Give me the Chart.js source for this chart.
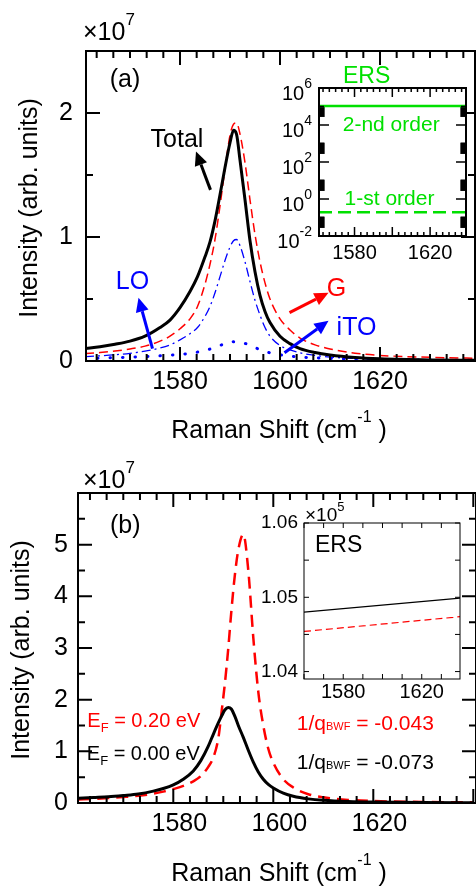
<!DOCTYPE html>
<html>
<head>
<meta charset="utf-8">
<title>G band and ERS</title>
<script src="https://cdn.jsdelivr.net/npm/chart.js@4.4.1/dist/chart.umd.min.js"></script>
<style>
  body { margin: 0; background: #fff; }
  #page { position: relative; width: 476px; height: 886px; overflow: hidden; background: #fff; }
  canvas { position: absolute; }
</style>
</head>
<body>
<div id="page">
  <canvas id="mainA" width="476" height="443" style="left:0;top:0"></canvas>
  <canvas id="mainB" width="476" height="443" style="left:0;top:443px"></canvas>
  <canvas id="insetA" width="226" height="215" style="left:250px;top:55px"></canvas>
  <canvas id="insetB" width="236" height="215" style="left:240px;top:495px"></canvas>
</div>
<script>
const FONT = "'Liberation Sans', Arial, Helvetica, sans-serif";
Chart.defaults.font.family = FONT;
Chart.defaults.color = '#000';

const BLACK = '#000000', RED = '#ff0000', BLUE = '#0000ff', GREEN = '#00e000';

// Raman shift in cm^-1, intensity in units of 1e7

// (a) total G band and its parts
const shiftA = [1561, 1564, 1567, 1570, 1573, 1576, 1578, 1580, 1582, 1583.5, 1585, 1586, 1587, 1588, 1589, 1590, 1590.7, 1591.3, 1592, 1593, 1594, 1595, 1596, 1597, 1598, 1600, 1602, 1604, 1607, 1610, 1615, 1620, 1630, 1639];
const totalA = [0.10, 0.115, 0.135, 0.16, 0.2, 0.27, 0.33, 0.43, 0.56, 0.68, 0.84, 0.96, 1.13, 1.34, 1.56, 1.76, 1.86, 1.83, 1.62, 1.3, 0.97, 0.72, 0.53, 0.4, 0.31, 0.2, 0.14, 0.1, 0.068, 0.048, 0.028, 0.018, 0.009, 0.006];
const gBandA = [0.06, 0.068, 0.08, 0.097, 0.12, 0.16, 0.2, 0.26, 0.34, 0.44, 0.62, 0.78, 0.98, 1.25, 1.55, 1.82, 1.91, 1.92, 1.83, 1.6, 1.3, 1.02, 0.8, 0.63, 0.5, 0.34, 0.25, 0.185, 0.13, 0.097, 0.063, 0.045, 0.03, 0.022];
const loA = [0.035, 0.042, 0.05, 0.062, 0.08, 0.105, 0.13, 0.17, 0.22, 0.27, 0.36, 0.44, 0.55, 0.68, 0.81, 0.92, 0.97, 0.98, 0.93, 0.8, 0.64, 0.49, 0.37, 0.27, 0.2, 0.125, 0.09, 0.066, 0.045, 0.032, 0.02, 0.014, 0.008, 0.006];
const itoA = [0.02, 0.023, 0.027, 0.031, 0.036, 0.042, 0.047, 0.053, 0.062, 0.072, 0.085, 0.096, 0.11, 0.125, 0.14, 0.152, 0.156, 0.156, 0.152, 0.142, 0.125, 0.108, 0.092, 0.078, 0.066, 0.05, 0.04, 0.032, 0.025, 0.02, 0.015, 0.011, 0.007, 0.005];

// (a) inset: ERS, log scale
const ersShiftA = [1561.2, 1639];
const ersSecond = [1.05e5, 1.05e5];
const ersFirst = [0.19, 0.19];
const ersMarkY = [5.5e4, 550, 5.5, 0.055];

// (b) two Fermi levels
const shiftB = [1561, 1564, 1567, 1570, 1573, 1576, 1578, 1580, 1582, 1584, 1585.5, 1587, 1588, 1589, 1589.7, 1590.3, 1591, 1591.6, 1592.3, 1593, 1594, 1595, 1596, 1597, 1598, 1599, 1600, 1602, 1604, 1607, 1610, 1615, 1620, 1630, 1640];
const ef000B = [0.09, 0.105, 0.12, 0.145, 0.175, 0.23, 0.28, 0.35, 0.46, 0.62, 0.82, 1.1, 1.33, 1.55, 1.69, 1.8, 1.85, 1.82, 1.68, 1.5, 1.27, 1.02, 0.79, 0.6, 0.46, 0.36, 0.29, 0.19, 0.13, 0.08, 0.052, 0.028, 0.017, 0.008, 0.005];
const ef020B = [0.07, 0.08, 0.095, 0.115, 0.14, 0.18, 0.22, 0.27, 0.33, 0.42, 0.52, 0.7, 0.88, 1.25, 1.8, 2.3, 3.0, 3.7, 4.4, 4.9, 5.2, 4.5, 3.2, 2.15, 1.5, 1.05, 0.78, 0.46, 0.3, 0.17, 0.11, 0.06, 0.038, 0.02, 0.012];

// (b) inset: ERS in units of 1e5
const ersShiftB = [1560, 1640];
const ersEf000 = [1.048, 1.0499];
const ersEf020 = [1.0454, 1.0474];

// tick labels
const mainXTicks = [1580, 1600, 1620];
const insetXTicks = [1580, 1620];
const ticksYA = [0, 1, 2];
const ticksYB = [0, 1, 2, 3, 4, 5];
const ticksYInsetB = [1.04, 1.05, 1.06];
const logDecades = [-2, 0, 2, 4, 6];

const pts = (xs, ys) => xs.map((x, i) => ({ x, y: ys[i] }));
function curve(xs, ys, color, width, dash, extra) {
  return Object.assign({
    data: pts(xs, ys), borderColor: color, borderWidth: width, borderDash: dash || [],
    pointRadius: 0, fill: false, clip: 0, cubicInterpolationMode: 'monotone'
  }, extra || {});
}

function xAxis(min, max, labels, size, pad, height, extra) {
  return {
    type: 'linear', min, max,
    grid: { display: false, drawTicks: false }, border: { display: false },
    afterBuildTicks: s => { s.ticks = labels.map(v => ({ value: v })); },
    afterFit: s => { s.height = height; },
    ticks: Object.assign({ font: { size }, padding: pad, maxRotation: 0, autoSkip: false, color: '#000', callback: v => String(v) }, extra || {})
  };
}
function yAxis(min, max, labels, size, pad, width, fmt) {
  return {
    type: 'linear', min, max,
    grid: { display: false, drawTicks: false }, border: { display: false },
    afterBuildTicks: s => { s.ticks = labels.map(v => ({ value: v })); },
    afterFit: s => { s.width = width; },
    ticks: { font: { size }, padding: pad, color: '#000', callback: fmt || (v => String(v)) }
  };
}

function markValues(min, max, specs) {
  const out = [];
  specs.forEach(sp => {
    const k0 = Math.ceil((min - sp.origin) / sp.step - 1e-6);
    const k1 = Math.floor((max - sp.origin) / sp.step + 1e-6);
    for (let k = k0; k <= k1; k++) {
      const v = sp.origin + k * sp.step;
      if (!out.some(m => Math.abs(m.v - v) < Math.abs(sp.step) * 1e-3)) out.push({ v, len: sp.len });
    }
  });
  return out;
}

// box, inward ticks on all four sides
function frame(o) {
  return {
    id: 'frame',
    beforeDraw(chart) {
      if (!o.fill) return;
      const a = chart.chartArea, c = chart.ctx;
      c.save(); c.fillStyle = '#fff'; c.fillRect(a.left, a.top, a.right - a.left, a.bottom - a.top); c.restore();
    },
    afterDatasetsDraw(chart) {
      const c = chart.ctx, a = chart.chartArea, xs = chart.scales.x, ys = chart.scales.y;
      c.save();
      c.strokeStyle = '#000'; c.lineWidth = o.tw;
      c.beginPath();
      markValues(xs.min, xs.max, o.x).forEach(m => {
        const p = xs.getPixelForValue(m.v);
        c.moveTo(p, a.bottom); c.lineTo(p, a.bottom - m.len);
        c.moveTo(p, a.top); c.lineTo(p, a.top + m.len);
      });
      (o.yList || markValues(ys.min, ys.max, o.y)).forEach(m => {
        const p = ys.getPixelForValue(m.v);
        c.moveTo(a.left, p); c.lineTo(a.left + m.len, p);
        c.moveTo(a.right, p); c.lineTo(a.right - m.len, p);
      });
      c.stroke();
      c.lineWidth = o.lw;
      c.strokeRect(a.left, a.top, a.right - a.left, a.bottom - a.top);
      c.restore();
    }
  };
}

function drawRich(c, x, base, parts, align, color) {
  const ws = parts.map(p => { c.font = p[1] + 'px ' + FONT; return c.measureText(p[0]).width; });
  const w = ws.reduce((s, v) => s + v, 0);
  let cx = align === 'center' ? x - w / 2 : align === 'right' ? x - w : x;
  c.fillStyle = color; c.textAlign = 'left'; c.textBaseline = 'alphabetic';
  parts.forEach((p, i) => { c.font = p[1] + 'px ' + FONT; c.fillText(p[0], cx, base + (p[2] || 0)); cx += ws[i]; });
}

function drawArrow(c, x1, y1, x2, y2, color) {
  const head = 14, hw = 6.5, ang = Math.atan2(y2 - y1, x2 - x1);
  const bx = x2 - head * Math.cos(ang), by = y2 - head * Math.sin(ang);
  c.strokeStyle = color; c.fillStyle = color; c.lineWidth = 3;
  c.beginPath(); c.moveTo(x1, y1); c.lineTo(bx, by); c.stroke();
  c.beginPath(); c.moveTo(x2, y2);
  c.lineTo(bx + hw * Math.sin(ang), by - hw * Math.cos(ang));
  c.lineTo(bx - hw * Math.sin(ang), by + hw * Math.cos(ang));
  c.closePath(); c.fill();
}

// texts and arrows placed in data units, plus axis titles
function notes(o) {
  return {
    id: 'notes',
    afterDraw(chart) {
      const c = chart.ctx, a = chart.chartArea, xs = chart.scales.x, ys = chart.scales.y;
      c.save();
      (o.arrows || []).forEach(r => drawArrow(c, xs.getPixelForValue(r[0]), ys.getPixelForValue(r[1]),
        xs.getPixelForValue(r[2]), ys.getPixelForValue(r[3]), r[4]));
      (o.texts || []).forEach(t => drawRich(c, xs.getPixelForValue(t.x),
        ys.getPixelForValue(t.y) + t.parts[0][1] * 0.36, t.parts, t.align || 'center', t.color));
      if (o.mult) drawRich(c, a.left + o.mult.dx, a.top + o.mult.dy, o.mult.parts, 'left', '#000');
      if (o.logLabels) o.logLabels.forEach(k => drawRich(c, a.left - 7, ys.getPixelForValue(Math.pow(10, k)) + 12,
        [['10', 20, 0], [String(k), 14, -12.5]], 'right', '#000'));
      if (o.xTitle) drawRich(c, o.xTitle.x, o.xTitle.y, [['Raman Shift (cm', 25, 0], ['-1', 16, -16.5], [' )', 25, 0]], 'center', '#000');
      if (o.yTitle) {
        c.translate(o.yTitle.x, (a.top + a.bottom) / 2 + 2);
        c.rotate(-Math.PI / 2);
        c.font = '25px ' + FONT; c.fillStyle = '#000'; c.textAlign = 'center'; c.textBaseline = 'middle';
        c.fillText('Intensity (arb. units)', 0, 0);
      }
      c.restore();
    }
  };
}

const base = { responsive: false, animation: false, events: [], plugins: { legend: { display: false }, tooltip: { enabled: false } } };
const mainFrame = { lw: 2, tw: 2,
  x: [{ origin: 1580, step: 20, len: 14 }, { origin: 1580, step: 20 / 6, len: 7 }],
  y: [{ origin: 0, step: 1, len: 14 }, { origin: 0, step: 0.5, len: 7 }] };

// ---------- panel (a)
new Chart(document.getElementById('mainA'), {
  type: 'line',
  data: { datasets: [
    curve(shiftA, totalA, BLACK, 3),
    curve(shiftA, gBandA, RED, 1.5, [9, 5]),
    curve(shiftA, loA, BLUE, 1.3, [9, 4, 2, 4]),
    curve(shiftA, itoA, BLUE, 3, [0.5, 12], { borderCapStyle: 'round' })
  ] },
  options: Object.assign({}, base, {
    layout: { padding: { top: 51, right: 1, left: 0, bottom: 0 } },
    scales: { x: xAxis(1561.2, 1639, mainXTicks, 25, 6, 82), y: yAxis(0, 2.5, ticksYA, 25, 13, 86) }
  }),
  plugins: [frame(mainFrame), notes({
    texts: [
      { x: 1569, y: 2.28, parts: [['(a)', 25]], color: BLACK },
      { x: 1579.4, y: 1.8, parts: [['Total', 25]], color: BLACK },
      { x: 1570.5, y: 0.65, parts: [['LO', 25]], color: BLUE },
      { x: 1611.3, y: 0.6, parts: [['G', 25]], color: RED },
      { x: 1615.3, y: 0.28, parts: [['iTO', 25]], color: BLUE }
    ],
    arrows: [
      [1586.1, 1.38, 1583.2, 1.69, BLACK],
      [1574.5, 0.10, 1571.7, 0.51, BLUE],
      [1601.9, 0.39, 1609.7, 0.55, RED],
      [1600.9, 0.067, 1609.7, 0.325, BLUE]
    ],
    mult: { dx: -3, dy: -11, parts: [['\u00d710', 25, 0], ['7', 17, -15]] },
    xTitle: { x: 279, y: 438 },
    yTitle: { x: 30 }
  })]
});

// ---------- panel (b)
new Chart(document.getElementById('mainB'), {
  type: 'line',
  data: { datasets: [
    curve(shiftB, ef000B, BLACK, 3),
    curve(shiftB, ef020B, RED, 2.5, [12, 7])
  ] },
  options: Object.assign({}, base, {
    layout: { padding: { top: 50, right: 0, left: 0, bottom: 0 } },
    scales: { x: xAxis(1560.94, 1640.54, mainXTicks, 25, 6, 83, { labelOffset: 6 }), y: yAxis(0, 6, ticksYB, 25, 10, 78) }
  }),
  plugins: [frame(mainFrame), notes({
    texts: [
      { x: 1570.4, y: 5.4, parts: [['(b)', 25]], color: BLACK },
      { x: 1562.8, y: 1.62, parts: [['E', 20, 0], ['F', 13, 5], [' = 0.20 eV', 20, 0]], color: RED, align: 'left' },
      { x: 1562.7, y: 0.97, parts: [['E', 20, 0], ['F', 13, 5], [' = 0.00 eV', 20, 0]], color: BLACK, align: 'left' },
      { x: 1604.7, y: 1.55, parts: [['1/q', 21, 0], ['BWF', 11, 0], [' = -0.043', 21, 0]], color: RED, align: 'left' },
      { x: 1604.7, y: 0.81, parts: [['1/q', 21, 0], ['BWF', 11, 0], [' = -0.073', 21, 0]], color: BLACK, align: 'left' }
    ],
    mult: { dx: 5, dy: -5, parts: [['\u00d710', 25, 0], ['7', 17, -15]] },
    xTitle: { x: 279, y: 438 },
    yTitle: { x: 22 }
  })]
});

// ---------- inset (a)
const decadeMarks = [];
for (let k = -2; k <= 6; k++) decadeMarks.push({ v: Math.pow(10, k), len: k % 2 === 0 ? 10 : 5 });
new Chart(document.getElementById('insetA'), {
  type: 'line',
  data: { datasets: [
    curve(ersShiftA, ersSecond, GREEN, 2.5),
    curve(ersShiftA, ersFirst, GREEN, 2.5, [13, 6]),
    { type: 'scatter', data: ersMarkY.flatMap(y => ersShiftA.map(x => ({ x, y }))), pointStyle: 'rect',
      pointRadius: 8, backgroundColor: BLACK, borderColor: BLACK, borderWidth: 0, clip: 0, showLine: false }
  ] },
  options: Object.assign({}, base, {
    layout: { padding: { top: 33, right: 10, left: 0, bottom: 0 } },
    scales: {
      x: xAxis(1561.2, 1639, insetXTicks, 20, 5, 34),
      y: { type: 'logarithmic', min: 1e-2, max: 1e6, grid: { display: false, drawTicks: false }, border: { display: false },
           ticks: { display: false }, afterFit: s => { s.width = 69; } }
    }
  }),
  plugins: [frame({ fill: true, lw: 2, tw: 1.5, yList: decadeMarks,
    x: [{ origin: 1580, step: 20, len: 9 }, { origin: 1580, step: 20 / 6, len: 4 }] }), notes({
    texts: [
      { x: 1573.9, y: Math.pow(10, 6.72), parts: [['ERS', 23]], color: GREEN, align: 'left' },
      { x: 1599.4, y: Math.pow(10, 4.1), parts: [['2-nd order', 21]], color: GREEN },
      { x: 1598.5, y: Math.pow(10, 0.1), parts: [['1-st order', 21]], color: GREEN }
    ],
    logLabels: logDecades
  })]
});

// ---------- inset (b)
new Chart(document.getElementById('insetB'), {
  type: 'line',
  data: { datasets: [
    curve(ersShiftB, ersEf000, BLACK, 1.2),
    curve(ersShiftB, ersEf020, RED, 1.2, [7, 4])
  ] },
  options: Object.assign({}, base, {
    layout: { padding: { top: 28, right: 16, left: 0, bottom: 0 } },
    scales: {
      x: xAxis(1560, 1639.5, insetXTicks, 20, 1, 31),
      y: yAxis(1.039, 1.06, ticksYInsetB, 19, 6, 64, v => v.toFixed(2))
    }
  }),
  plugins: [frame({ fill: true, lw: 1, tw: 1,
    x: [{ origin: 1580, step: 10, len: 5 }], y: [{ origin: 1.05, step: 0.005, len: 5 }] }), notes({
    texts: [{ x: 1565.6, y: 1.0572, parts: [['ERS', 23]], color: BLACK, align: 'left' }],
    mult: { dx: 1, dy: -2, parts: [['\u00d710', 19, 0], ['5', 13, -10]] }
  })]
});
</script>
</body>
</html>
